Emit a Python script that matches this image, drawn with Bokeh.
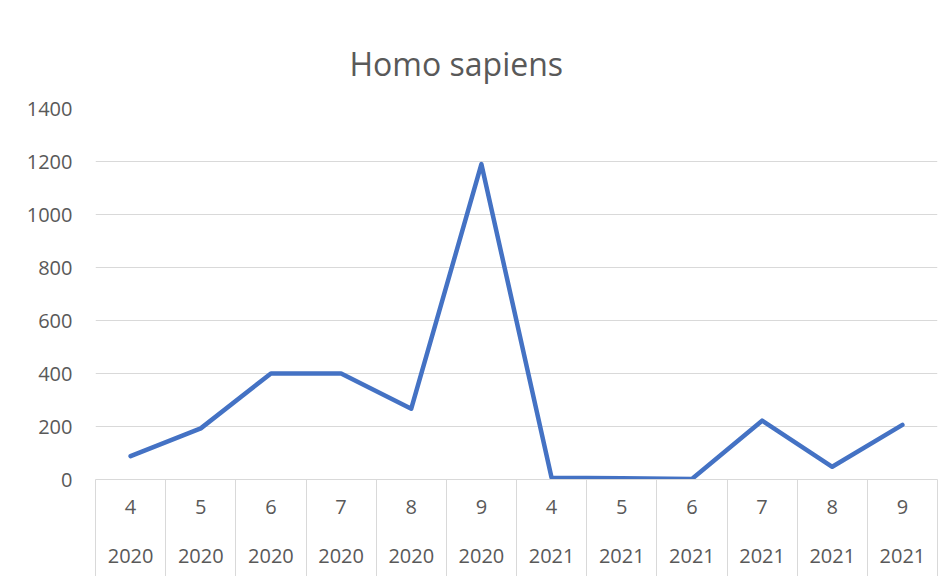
from bokeh.plotting import figure
from bokeh.models import Range1d, FixedTicker, LinearAxis
from bokeh.embed import file_html
from bokeh.resources import INLINE

# ---- data ----
months = ["4", "5", "6", "7", "8", "9", "4", "5", "6", "7", "8", "9"]
years = ["2020"] * 6 + ["2021"] * 6
counts = [88, 193, 400, 400, 267, 1190, 7, 5, 2, 222, 48, 206]
y_ticks = [0, 200, 400, 600, 800, 1000, 1200, 1400]
title_text = "Homo sapiens"

n = len(counts)
centers = [i + 0.5 for i in range(n)]
bounds = list(range(n + 1))

FONT = "Open Sans"
TXT = "#595959"
GRID = "#d9d9d9"

p = figure(width=950, height=576, output_backend="svg", toolbar_location=None,
           x_range=Range1d(0, n), y_range=Range1d(0, y_ticks[-1]),
           x_axis_location=None, min_border_left=95, min_border_right=13,
           min_border_top=108, min_border_bottom=97)
p.outline_line_color = None
p.background_fill_color = "white"
p.border_fill_color = "white"

# title
p.title.text = title_text
p.title.text_font = FONT
p.title.text_font_size = "32px"
p.title.text_font_style = "normal"
p.title.text_color = TXT
p.title.align = "left"
p.title.offset = 254
p.title.standoff = 48

# y axis
p.yaxis.ticker = FixedTicker(ticks=y_ticks)
p.yaxis.axis_line_color = None
p.yaxis.major_tick_line_color = None
p.yaxis.minor_tick_line_color = None
p.yaxis.major_label_standoff = 17
p.yaxis.major_label_text_font = FONT
p.yaxis.major_label_text_font_size = "20px"
p.yaxis.major_label_text_color = TXT

for g in p.ygrid:
    g.ticker = FixedTicker(ticks=y_ticks)
    g.grid_line_color = GRID
for g in p.xgrid:
    g.grid_line_color = None

# x axis: months row with separators (drawn outward via negative tick_in)
ax1 = LinearAxis(ticker=FixedTicker(ticks=centers, minor_ticks=bounds),
                 major_label_overrides={c: m for c, m in zip(centers, months)})
ax1.axis_line_color = GRID
ax1.major_tick_line_color = None
ax1.major_tick_out = 0
ax1.major_tick_in = 0
ax1.minor_tick_line_color = GRID
ax1.minor_tick_out = 0
ax1.minor_tick_in = -97
ax1.major_label_standoff = 20
ax1.major_label_text_font = FONT
ax1.major_label_text_font_size = "20px"
ax1.major_label_text_color = TXT
p.add_layout(ax1, "below")

# x axis: years row
ax2 = LinearAxis(ticker=FixedTicker(ticks=centers),
                 major_label_overrides={c: y for c, y in zip(centers, years)})
ax2.axis_line_color = None
ax2.major_tick_line_color = None
ax2.minor_tick_line_color = None
ax2.major_tick_out = 0
ax2.major_tick_in = 0
ax2.major_label_standoff = 32
ax2.major_label_text_font = FONT
ax2.major_label_text_font_size = "20px"
ax2.major_label_text_color = TXT
p.add_layout(ax2, "below")

p.line(centers, counts, line_width=4.5, line_color="#4472C4",
       line_join="round", line_cap="round")

open("out.html", "w").write(file_html(p, INLINE))
